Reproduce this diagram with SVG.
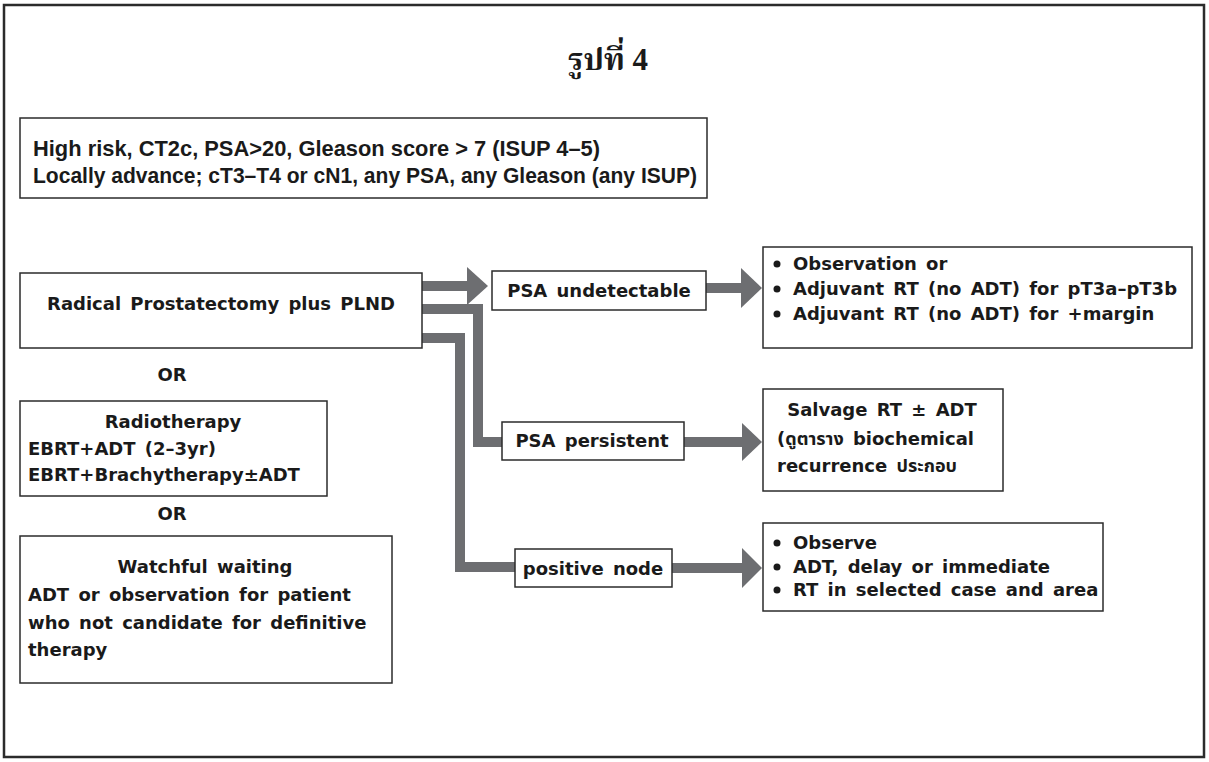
<svg xmlns="http://www.w3.org/2000/svg" width="1209" height="762" viewBox="0 0 1209 762">
<style>
.box{fill:#fff;stroke:#2b2b2b;stroke-width:1.5}
.t{font-family:"DejaVu Sans","Liberation Sans","Noto Sans Thai","Loma","Garuda","Tlwg Typo",sans-serif;font-weight:bold;font-size:18px;word-spacing:3px;fill:#1a1a1a}
.h{font-family:"Liberation Sans","Noto Sans Thai",sans-serif;font-weight:bold;font-size:22px;fill:#1a1a1a}
.c{fill:none;stroke:#6d6e71;stroke-width:10;stroke-linejoin:miter;stroke-linecap:butt}
.a{fill:#6d6e71}
.dot{fill:#1a1a1a}
</style>
<rect x="4" y="5" width="1200" height="752" fill="#fff" stroke="#2b2b2b" stroke-width="2.5"/>
<text x="608" y="70" text-anchor="middle" style="font-family:'Liberation Serif','Noto Serif Thai','Noto Sans Thai','Loma','Garuda',serif;font-weight:bold;font-size:31px;fill:#1a1a1a">รูปที่ 4</text>

<g id="header">
<rect class="box" x="20" y="118" width="687" height="80"/>
<text class="h" x="33" y="156" textLength="567" lengthAdjust="spacingAndGlyphs">High risk, CT2c, PSA&gt;20, Gleason score &gt; 7 (ISUP 4–5)</text>
<text class="h" x="33" y="183" textLength="664" lengthAdjust="spacingAndGlyphs">Locally advance; cT3–T4 or cN1, any PSA, any Gleason (any ISUP)</text>
</g>

<g id="connectors">
<path class="c" d="M422,286 H468"/>
<polygon class="a" points="467,267 488,286 467,305"/>
<path class="c" d="M422,309 H478 V442 H502"/>
<path class="c" d="M422,338 H460 V567 H515"/>
<path class="c" d="M706,288 H742"/>
<polygon class="a" points="741,268 762,288 741,308"/>
<path class="c" d="M684,442 H743"/>
<polygon class="a" points="742,423 762,442 742,461"/>
<path class="c" d="M672,568 H743"/>
<polygon class="a" points="742,548 762,568 742,588"/>
</g>

<g id="radical">
<rect class="box" x="20" y="273" width="402" height="75"/>
<text class="t" x="221" y="310" text-anchor="middle">Radical Prostatectomy plus PLND</text>
</g>
<g id="or1"><text class="t" x="172" y="381" text-anchor="middle">OR</text></g>
<g id="radiotherapy">
<rect class="box" x="20" y="401" width="307" height="95"/>
<text class="t" x="173" y="428" text-anchor="middle">Radiotherapy</text>
<text class="t" x="28" y="455">EBRT+ADT (2–3yr)</text>
<text class="t" x="28" y="481">EBRT+Brachytherapy±ADT</text>
</g>
<g id="or2"><text class="t" x="172" y="520" text-anchor="middle">OR</text></g>
<g id="watchful">
<rect class="box" x="20" y="536" width="372" height="147"/>
<text class="t" x="205" y="573" text-anchor="middle">Watchful waiting</text>
<text class="t" x="28" y="601">ADT or observation for patient</text>
<text class="t" x="28" y="629">who not candidate for definitive</text>
<text class="t" x="28" y="656">therapy</text>
</g>

<g id="psa-undetectable">
<rect class="box" x="492" y="271" width="214" height="39"/>
<text class="t" x="599" y="297" text-anchor="middle">PSA undetectable</text>
</g>
<g id="psa-persistent">
<rect class="box" x="502" y="422" width="182" height="38"/>
<text class="t" x="592" y="447" text-anchor="middle">PSA persistent</text>
</g>
<g id="positive-node">
<rect class="box" x="515" y="549" width="157" height="38"/>
<text class="t" x="593" y="575" text-anchor="middle">positive node</text>
</g>

<g id="adjuvant">
<rect class="box" x="763" y="247" width="429" height="101"/>
<circle class="dot" cx="777" cy="264" r="3.5"/>
<circle class="dot" cx="777" cy="289" r="3.5"/>
<circle class="dot" cx="777" cy="314" r="3.5"/>
<text class="t" x="793" y="270">Observation or</text>
<text class="t" x="793" y="295">Adjuvant RT (no ADT) for pT3a–pT3b</text>
<text class="t" x="793" y="320">Adjuvant RT (no ADT) for +margin</text>
</g>
<g id="salvage">
<rect class="box" x="763" y="389" width="240" height="102"/>
<text class="t" x="882" y="416" text-anchor="middle">Salvage RT ± ADT</text>
<text class="t" x="777" y="445">(ดูตาราง biochemical</text>
<text class="t" x="777" y="472">recurrence ประกอบ</text>
</g>
<g id="node-management">
<rect class="box" x="763" y="523" width="340" height="88"/>
<circle class="dot" cx="777" cy="543" r="3.5"/>
<circle class="dot" cx="777" cy="567" r="3.5"/>
<circle class="dot" cx="777" cy="590" r="3.5"/>
<text class="t" x="793" y="549">Observe</text>
<text class="t" x="793" y="573">ADT, delay or immediate</text>
<text class="t" x="793" y="596">RT in selected case and area</text>
</g>
</svg>
